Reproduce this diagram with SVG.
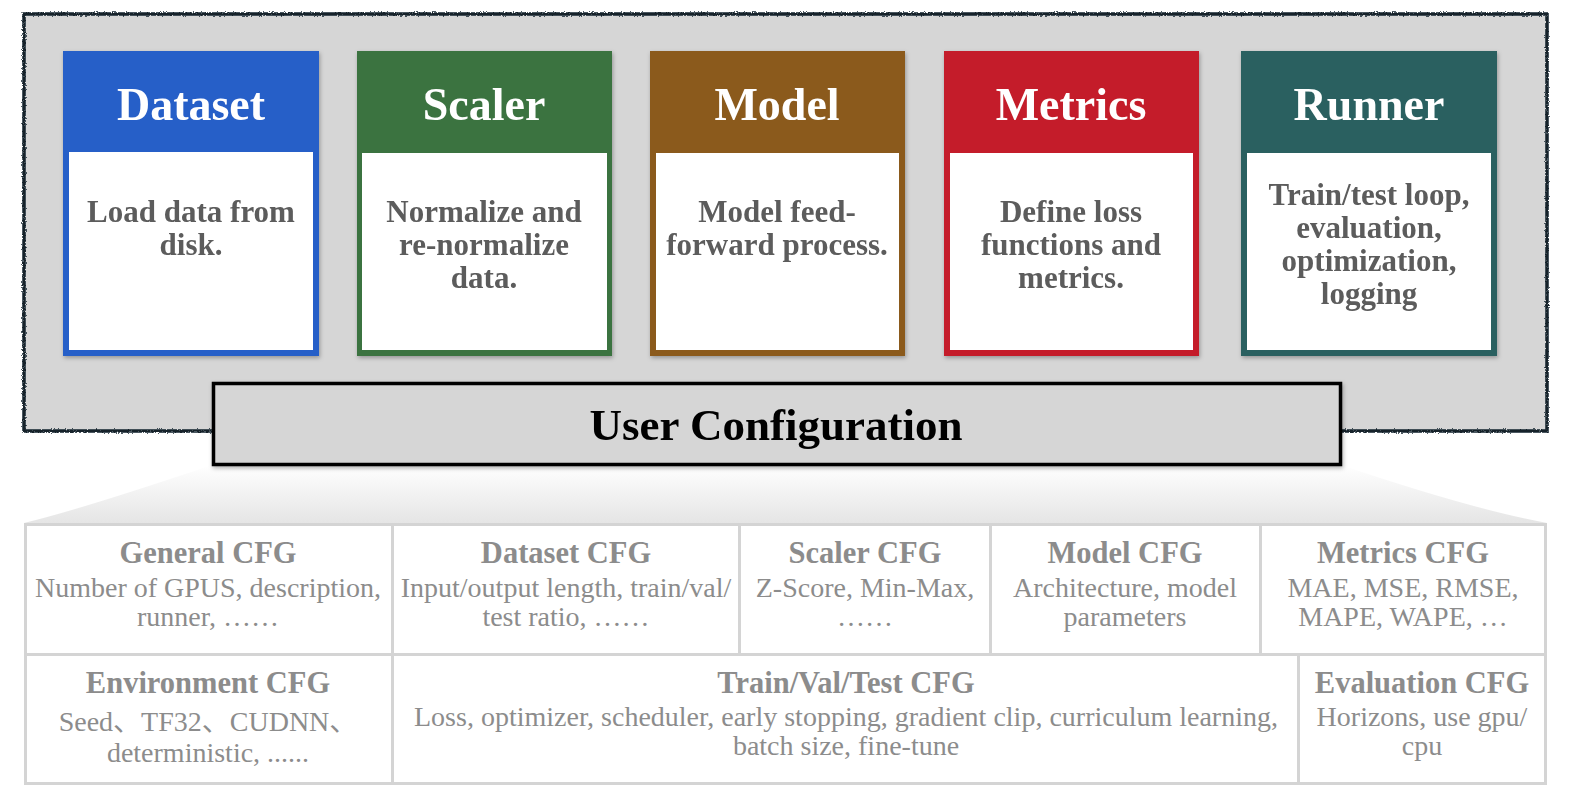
<svg xmlns="http://www.w3.org/2000/svg" width="1571" height="800" viewBox="0 0 1571 800">
<style>
.hdr{font-family:"Liberation Serif","DejaVu Serif",serif;font-weight:bold;font-size:46px;fill:#ffffff;text-anchor:middle}
.body{font-family:"Liberation Serif","DejaVu Serif",serif;font-weight:bold;font-size:31px;fill:#5c5c5c;text-anchor:middle}
.uc{font-family:"Liberation Serif","DejaVu Serif",serif;font-weight:bold;font-size:45px;fill:#000000;text-anchor:middle}
.ct{font-family:"Liberation Serif","DejaVu Serif",serif;font-weight:bold;font-size:30.5px;fill:#8c8c8c;text-anchor:middle}
.cb{font-family:"Liberation Serif","Noto Sans CJK SC",serif;font-size:28px;fill:#8c8c8c;text-anchor:middle}
.cell{fill:#ffffff;stroke:#d4d4d4;stroke-width:3}
.inner{fill:#ffffff}
</style>
<defs>
<linearGradient id="fan" x1="0" y1="0" x2="0" y2="1">
<stop offset="0" stop-color="#ffffff"/>
<stop offset="1" stop-color="#e5e5e5"/>
</linearGradient>
<filter id="rough" x="-2%" y="-5%" width="104%" height="110%">
<feTurbulence type="fractalNoise" baseFrequency="0.8" numOctaves="2" seed="3" result="n"/>
<feDisplacementMap in="SourceGraphic" in2="n" scale="3" xChannelSelector="R" yChannelSelector="G"/>
</filter>
<filter id="shadow" x="-5%" y="-5%" width="110%" height="115%">
<feDropShadow dx="1" dy="2" stdDeviation="2" flood-color="#000000" flood-opacity="0.3"/>
</filter>
</defs>

<g id="framework">
<rect x="24" y="14" width="1523" height="417" fill="#d6d6d6"/>
<rect x="24" y="14" width="1523" height="417" fill="none" stroke="#15232c" stroke-width="3.5" filter="url(#rough)"/>
</g>

<g id="dataset" filter="url(#shadow)">
<rect x="63" y="51" width="256" height="305" fill="#285fc8"/>
<rect class="inner" x="69" y="152" width="244" height="198"/>
<text class="hdr" x="191" y="120">Dataset</text>
<text class="body" x="191" y="222">Load data from</text>
<text class="body" x="191" y="255">disk.</text>
</g>

<g id="scaler" filter="url(#shadow)">
<rect x="357" y="51" width="255" height="305" fill="#3b7340"/>
<rect class="inner" x="362" y="153" width="245" height="197"/>
<text class="hdr" x="484" y="120">Scaler</text>
<text class="body" x="484" y="222">Normalize and</text>
<text class="body" x="484" y="255">re-normalize</text>
<text class="body" x="484" y="288">data.</text>
</g>

<g id="model" filter="url(#shadow)">
<rect x="650" y="51" width="255" height="305" fill="#8b5a1d"/>
<rect class="inner" x="656" y="153" width="243" height="197"/>
<text class="hdr" x="777" y="120">Model</text>
<text class="body" x="777" y="222">Model feed-</text>
<text class="body" x="777" y="255">forward process.</text>
</g>

<g id="metrics" filter="url(#shadow)">
<rect x="944" y="51" width="255" height="305" fill="#c41f2a"/>
<rect class="inner" x="950" y="153" width="243" height="197"/>
<text class="hdr" x="1071" y="120">Metrics</text>
<text class="body" x="1071" y="222">Define loss</text>
<text class="body" x="1071" y="255">functions and</text>
<text class="body" x="1071" y="288">metrics.</text>
</g>

<g id="runner" filter="url(#shadow)">
<rect x="1241" y="51" width="256" height="305" fill="#2a6161"/>
<rect class="inner" x="1247" y="153" width="244" height="197"/>
<text class="hdr" x="1369" y="120">Runner</text>
<text class="body" x="1369" y="205">Train/test loop,</text>
<text class="body" x="1369" y="238">evaluation,</text>
<text class="body" x="1369" y="271">optimization,</text>
<text class="body" x="1369" y="304">logging</text>
</g>

<g id="connectors">
<path d="M212,465 Q82,509 24,523 L1547,523 Q1471,509 1341,465 Z" fill="url(#fan)"/>
</g>

<g id="user-configuration" filter="url(#shadow)">
<rect x="213.5" y="383.5" width="1127" height="81" fill="#d6d6d6" stroke="#000000" stroke-width="3.5"/>
<text class="uc" x="776" y="440">User Configuration</text>
</g>

<g id="general-cfg">
<rect class="cell" x="25.5" y="524.5" width="367" height="130"/>
<text class="ct" x="208" y="563">General CFG</text>
<text class="cb" x="208" y="597">Number of GPUS, description,</text>
<text class="cb" x="208" y="626">runner, ……</text>
</g>
<g id="dataset-cfg">
<rect class="cell" x="392.5" y="524.5" width="347" height="130"/>
<text class="ct" x="566" y="563">Dataset CFG</text>
<text class="cb" x="566" y="597">Input/output length, train/val/</text>
<text class="cb" x="566" y="626">test ratio, ……</text>
</g>
<g id="scaler-cfg">
<rect class="cell" x="739.5" y="524.5" width="251" height="130"/>
<text class="ct" x="865" y="563">Scaler CFG</text>
<text class="cb" x="865" y="597">Z-Score, Min-Max,</text>
<text class="cb" x="865" y="626">……</text>
</g>
<g id="model-cfg">
<rect class="cell" x="990.5" y="524.5" width="270" height="130"/>
<text class="ct" x="1125" y="563">Model CFG</text>
<text class="cb" x="1125" y="597">Architecture, model</text>
<text class="cb" x="1125" y="626">parameters</text>
</g>
<g id="metrics-cfg">
<rect class="cell" x="1260.5" y="524.5" width="285" height="130"/>
<text class="ct" x="1403" y="563">Metrics CFG</text>
<text class="cb" x="1403" y="597">MAE, MSE, RMSE,</text>
<text class="cb" x="1403" y="626">MAPE, WAPE, …</text>
</g>
<g id="environment-cfg">
<rect class="cell" x="25.5" y="654.5" width="367" height="129"/>
<text class="ct" x="208" y="693">Environment CFG</text>
<text class="cb" x="208" y="731">Seed、TF32、CUDNN、</text>
<text class="cb" x="208" y="762">deterministic, ......</text>
</g>
<g id="train-val-test-cfg">
<rect class="cell" x="392.5" y="654.5" width="906" height="129"/>
<text class="ct" x="846" y="693">Train/Val/Test CFG</text>
<text class="cb" x="846" y="726">Loss, optimizer, scheduler, early stopping, gradient clip, curriculum learning,</text>
<text class="cb" x="846" y="755">batch size, fine-tune</text>
</g>
<g id="evaluation-cfg">
<rect class="cell" x="1298.5" y="654.5" width="247" height="129"/>
<text class="ct" x="1422" y="693">Evaluation CFG</text>
<text class="cb" x="1422" y="726">Horizons, use gpu/</text>
<text class="cb" x="1422" y="755">cpu</text>
</g>
</svg>
